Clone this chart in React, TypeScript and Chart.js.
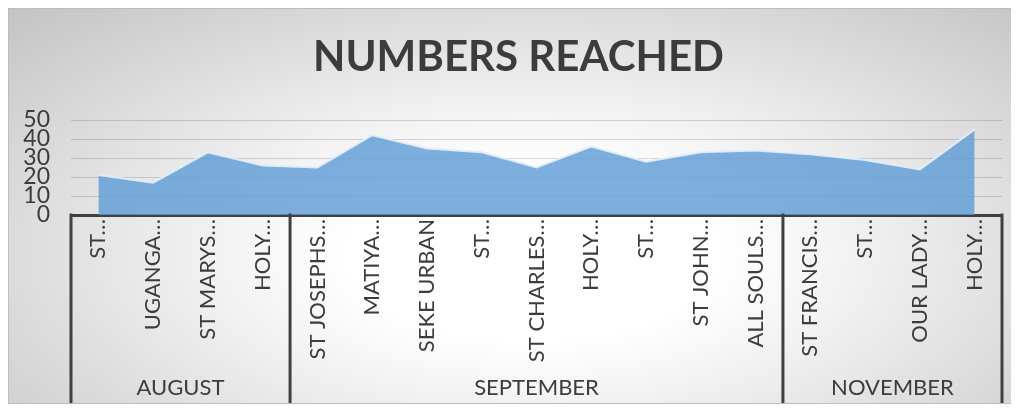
import React, { useEffect, useRef } from "react";
import { Chart, registerables } from "chart.js";

Chart.register(...registerables);

const chartTitle = "NUMBERS REACHED";
const categories = [
  "ST…",
  "UGANGA…",
  "ST MARYS…",
  "HOLY…",
  "ST JOSEPHS…",
  "MATIYA…",
  "SEKE URBAN",
  "ST…",
  "ST CHARLES…",
  "HOLY…",
  "ST…",
  "ST JOHN…",
  "ALL SOULS…",
  "ST FRANCIS…",
  "ST…",
  "OUR LADY…",
  "HOLY…",
];
const values = [21, 17, 33, 26, 25, 42, 35, 33, 25, 36, 28, 33, 34, 32, 29, 24, 45];
const groupNames = ["AUGUST", "SEPTEMBER", "NOVEMBER"];
const groupSizes = [4, 9, 4];
const yMin = 0;
const yMax = 50;
const yStep = 10;

const FONT = "Lato";
const TEXT = "#3c3c3c";

const groupPlugin = {
  id: "groupsAndTitle",
  afterDraw(chart: any) {
    const ctx = chart.ctx as CanvasRenderingContext2D;
    const xs = chart.scales.x;
    const area = chart.chartArea;
    const bottom = chart.height - 1;
    const n = categories.length;

    const bounds: number[] = [area.left];
    let idx = 0;
    for (const size of groupSizes) {
      idx += size;
      if (idx >= n) bounds.push(area.right);
      else bounds.push((xs.getPixelForValue(idx - 1) + xs.getPixelForValue(idx)) / 2);
    }

    ctx.save();
    ctx.strokeStyle = "#404040";
    ctx.lineWidth = 3;
    ctx.lineCap = "butt";
    for (const b of bounds) {
      ctx.beginPath();
      ctx.moveTo(b, area.bottom - 1.5);
      ctx.lineTo(b, bottom);
      ctx.stroke();
    }

    ctx.fillStyle = TEXT;
    ctx.font = `22px ${FONT}`;
    ctx.textAlign = "center";
    ctx.textBaseline = "middle";
    groupNames.forEach((g, i) => {
      ctx.fillText(g, (bounds[i] + bounds[i + 1]) / 2, chart.height - 16);
    });

    ctx.font = `bold 42px ${FONT}`;
    ctx.fillText(chartTitle, chart.width / 2 + 5, 49);
    ctx.restore();
  },
};

export default function App() {
  const ref = useRef<HTMLCanvasElement>(null);

  useEffect(() => {
    document.documentElement.style.overflow = "hidden";
    const chart = new Chart(ref.current as HTMLCanvasElement, {
      type: "line",
      data: {
        labels: categories,
        datasets: [
          {
            data: values,
            fill: "origin",
            backgroundColor: "rgba(91,155,213,0.8)",
            borderColor: "rgba(225,237,248,0.95)",
            borderWidth: 2,
            pointRadius: 0,
            tension: 0,
          },
        ],
      },
      options: {
        responsive: false,
        animation: false,
        layout: { padding: { top: 112, right: 17, bottom: 0, left: 0 } },
        plugins: {
          legend: { display: false },
          tooltip: { enabled: false },
          title: { display: false },
        },
        scales: {
          x: {
            type: "category",
            offset: true,
            z: 1,
            grid: { display: false, drawTicks: false },
            border: { display: true, color: "#404040", width: 3 },
            ticks: {
              autoSkip: false,
              minRotation: 90,
              maxRotation: 90,
              padding: 4,
              color: TEXT,
              font: { family: FONT, size: 22 },
            },
            afterFit(s: any) {
              s.height = 189;
            },
          },
          y: {
            min: yMin,
            max: yMax,
            grid: { color: "rgba(0,0,0,0.15)", lineWidth: 1, drawTicks: false },
            border: { display: false },
            ticks: {
              stepSize: yStep,
              autoSkip: false,
              padding: 21,
              color: TEXT,
              font: { family: FONT, size: 23, lineHeight: 1 },
            },
            afterFit(s: any) {
              s.width = 63;
            },
          },
        },
      },
      plugins: [groupPlugin],
    });
    return () => chart.destroy();
  }, []);

  return (
    <div
      style={{
        width: 1011,
        height: 396,
        boxShadow: "inset 0 0 0 1px #bdbdbd",
        background:
          "radial-gradient(ellipse farthest-corner at 52% 62%, #ffffff 0%, #ffffff 25%, #f4f4f4 40%, #c3c3c3 100%)",
      }}
    >
      <canvas ref={ref} width={1011} height={396} style={{ display: "block" }} />
    </div>
  );
}
